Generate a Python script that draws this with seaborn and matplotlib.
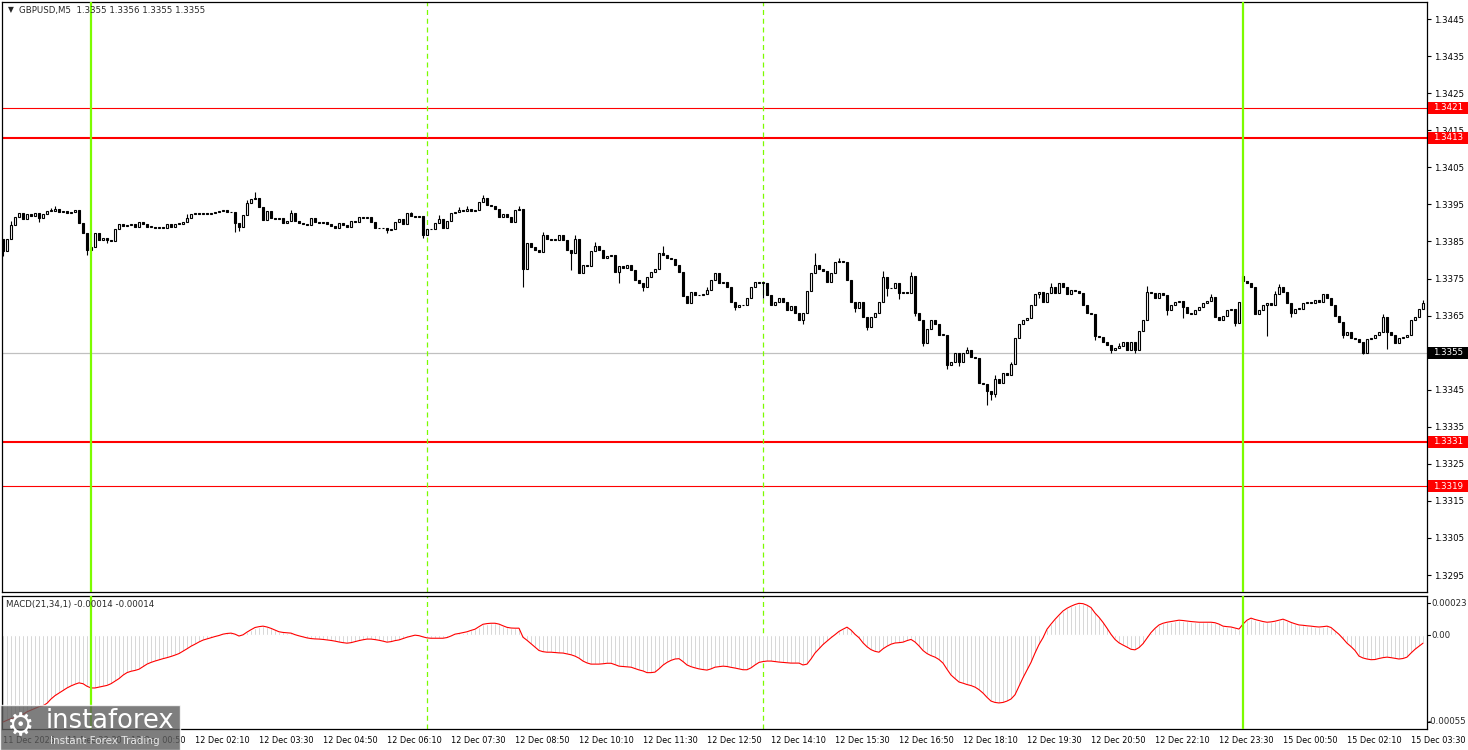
import matplotlib
matplotlib.use("Agg")
import matplotlib.pyplot as plt
import matplotlib.transforms as mtransforms
from matplotlib.patches import Rectangle
import numpy as np
import seaborn as sns

# prices are kept in pips above 1.3300
BASE = 1.3300
PIP = 0.0001

close_pips = [
    82.4, 85.7, 89.4, 91.6, 92.7, 91.0, 92.4, 91.9, 92.7, 91.3,
    92.4, 93.2, 93.2, 93.7, 92.9, 93.2, 92.7, 92.9, 93.5, 90.0,
    87.3, 82.7, 83.5, 87.3, 85.4, 85.9, 85.4, 85.1, 88.3, 89.7,
    89.2, 89.4, 89.7, 88.9, 90.2, 89.7, 88.9, 88.9, 88.6, 88.9,
    88.6, 89.7, 88.9, 89.7, 89.7, 90.2, 91.3, 92.4, 92.7, 92.4,
    92.7, 92.4, 92.7, 92.9, 93.2, 93.5, 92.9, 92.9, 90.0, 88.9,
    92.1, 95.4, 96.4, 96.7, 94.3, 90.8, 93.2, 91.3, 91.0, 91.3,
    90.0, 90.5, 92.7, 90.5, 90.0, 89.7, 89.4, 91.3, 90.2, 90.0,
    90.2, 89.7, 89.2, 88.6, 90.0, 89.4, 88.9, 90.5, 90.2, 91.6,
    91.3, 91.6, 90.2, 88.6, 88.6, 88.6, 88.1, 88.3, 90.2, 91.0,
    89.7, 92.7, 91.9, 91.6, 91.9, 86.7, 88.3, 88.3, 90.0, 91.0,
    88.6, 90.5, 92.7, 92.9, 93.5, 93.2, 93.7, 93.2, 93.5, 95.6,
    96.7, 94.8, 94.6, 93.7, 91.6, 92.4, 91.6, 90.2, 93.5, 93.7,
    77.6, 84.6, 83.5, 82.7, 82.1, 86.7, 85.7, 85.4, 85.4, 86.7,
    85.4, 82.7, 81.9, 85.7, 76.5, 78.6, 78.4, 82.4, 83.8, 82.7,
    80.5, 81.1, 81.3, 76.8, 78.4, 77.8, 78.6, 77.3, 74.6, 73.8,
    72.7, 75.4, 76.8, 77.6, 81.9, 81.3, 80.5, 80.3, 78.6, 76.8,
    70.3, 68.4, 71.4, 70.5, 70.5, 70.8, 71.9, 74.6, 76.5, 73.8,
    74.1, 72.7, 68.7, 67.3, 67.8, 67.8, 69.7, 72.7, 74.1, 73.8,
    73.8, 70.5, 67.8, 68.7, 69.7, 68.7, 66.5, 67.6, 65.7, 63.8,
    65.7, 71.6, 76.5, 78.6, 77.6, 77.0, 74.1, 76.5, 79.4, 79.7,
    79.4, 74.6, 68.7, 67.0, 68.7, 64.6, 61.9, 64.6, 65.7, 68.7,
    75.4, 72.4, 72.4, 73.8, 71.1, 71.4, 71.1, 75.7, 65.7, 63.8,
    57.6, 61.4, 63.8, 62.7, 59.8, 59.8, 51.7, 52.5, 54.9, 52.5,
    54.9, 55.7, 53.8, 53.6, 46.8, 46.5, 44.6, 43.8, 47.9, 46.8,
    49.5, 49.0, 51.9, 58.9, 62.7, 63.8, 64.3, 67.8, 70.8, 71.4,
    68.7, 71.1, 72.7, 71.1, 73.8, 72.7, 70.8, 71.9, 71.6, 71.1,
    67.8, 65.7, 65.3, 59.5, 59.2, 57.9, 57.1, 55.7, 56.2, 56.8,
    57.9, 55.7, 57.9, 55.7, 60.8, 63.8, 71.4, 71.0, 69.7, 71.1,
    70.5, 66.5, 67.8, 68.7, 69.0, 67.3, 65.7, 65.4, 66.5, 67.3,
    68.4, 69.0, 70.0, 64.6, 63.8, 64.9, 66.5, 66.8, 63.0, 68.7,
    74.3, 73.8, 72.7, 65.4, 66.5, 67.8, 68.4, 67.8, 70.8, 72.7,
    71.4, 68.4, 65.7, 66.8, 66.8, 68.4, 68.7, 68.4, 69.2, 68.7,
    70.8, 69.7, 67.8, 64.9, 63.3, 59.8, 60.6, 58.9, 58.7, 57.9,
    54.9, 58.7, 59.0, 59.8, 60.6, 64.6, 60.6, 59.8, 57.6, 58.9,
    59.2, 59.8, 63.8, 64.6, 66.8, 68.4,
]
first_open_pips = 85.7
gap_open_bars = [310]
gap_open_pips = [75.7]

high_wick_bars = [2, 12, 13, 46, 61, 63, 72, 102, 109, 114, 116, 120, 129,
                  135, 143, 148, 165, 176, 203, 209, 220, 227, 241, 248, 252,
                  262, 266, 279, 286, 302, 318, 319, 345, 355]
high_wick_pips = [90.5, 94.0, 94.5, 92.5, 96.2, 98.3, 93.5, 93.0, 92.0, 94.3,
                  94.5, 97.5, 94.6, 87.5, 86.7, 84.9, 83.8, 72.7, 81.9, 80.5,
                  77.0, 76.8, 56.5, 49.0, 52.6, 73.8, 72.0, 57.6, 73.0, 70.8,
                  71.6, 73.5, 65.4, 69.2]
low_wick_bars = [0, 9, 21, 26, 58, 59, 89, 96, 105, 130, 142, 154, 160, 183,
                 190, 200, 213, 216, 219, 221, 224, 228, 230, 236, 239, 246,
                 247, 248, 252, 259, 273, 277, 283, 291, 295, 308, 316, 322,
                 335, 340, 346]
low_wick_pips = [81.1, 90.2, 81.3, 84.6, 87.6, 87.8, 90.8, 87.3, 86.0, 72.7,
                 77.3, 73.8, 71.6, 66.5, 69.7, 62.7, 65.9, 61.1, 67.6, 70.3,
                 69.5, 64.9, 56.8, 50.6, 51.4, 40.9, 42.2, 43.0, 50.8, 69.7,
                 58.4, 54.9, 54.9, 65.2, 64.3, 62.2, 59.5, 64.6, 59.0, 54.6,
                 56.0]

# MACD(21,34,1), in units of 0.00001
macd_points = [
    -51, -50, -49, -48.5, -47.5, -46.5, -45, -44, -43, -42,
    -41.5, -40, -37.5, -35.5, -34, -32.5, -31, -29.8, -28.8, -28,
    -28.5, -30, -31, -31, -30.5, -30, -29.5, -28.5, -27, -25.5,
    -23.5, -22, -21.2, -20.7, -20, -18.5, -17, -16, -15.2, -14.5,
    -13.8, -13.2, -12.5, -11.7, -10.8, -9.4, -8, -6.5, -5.3, -4,
    -2.9, -2.2, -1.5, -0.8, -0.2, 0.6, 1.0, 1.2, 0.6, -0.5,
    0.2, 1.8, 3.2, 4.5, 5.0, 5.3, 4.8, 4.0, 3.0, 2.0,
    1.6, 1.4, 1.2, 0.3, -0.4, -1.0, -1.6, -2.0, -2.2, -2.3,
    -2.5, -2.8, -3.1, -3.5, -4.0, -4.4, -4.7, -4.4, -3.8, -3.2,
    -2.7, -2.3, -2.3, -2.6, -3.0, -3.5, -4.1, -3.8, -3.2, -2.8,
    -2.0, -1.2, -0.6, 0, -0.3, -1.0, -1.6, -1.8, -1.8, -1.8,
    -1.8, -1.4, -0.5, 0.6, 1.0, 1.5, 2.0, 2.8, 3.5, 5.0,
    6.4, 6.8, 7.0, 7.0, 6.5, 5.5, 4.6, 4.2, 4.1, 4.1,
    -1.2, -3.0, -5.0, -7.0, -9.0, -9.7, -10, -10, -10.2, -10.4,
    -10.5, -11, -11.5, -12.3, -13.5, -15.2, -16.3, -17, -17, -17,
    -16.8, -16.5, -16.5, -17.3, -18.2, -18.4, -18.6, -18.8, -19.6, -20.4,
    -21, -22, -22, -21.7, -19.8, -17.6, -16, -14.8, -14, -13.8,
    -15.5, -17.5, -18.5, -19.2, -19.8, -20.2, -20.5, -19.8, -18.8, -18.5,
    -18.2, -18.4, -18.9, -19.3, -19.8, -20.3, -20.3, -19.2, -17.5, -16.0,
    -15.5, -15.2, -15.2, -15.5, -15.8, -16.0, -16.2, -16.4, -16.4, -16.4,
    -17.5, -17.0, -14, -10.5, -8, -5.5, -3.5, -1.5, 0.3, 2.2,
    3.5, 4.7, 3.0, 0.5, -1.5, -4.5, -6.8, -8.5, -9.5, -10,
    -8, -6.5, -5.3, -4.6, -4.4, -4.1, -3.2, -2.5, -4.0, -6.3,
    -9, -10.8, -12, -12.9, -14.3, -16.4, -20, -23.4, -25.5, -27.5,
    -28.2, -29, -29.6, -30.5, -32, -34, -36.5, -38.7, -39.5, -39.8,
    -39.5, -38.7, -37.5, -35, -30, -25, -20.5, -16, -10.5, -5.5,
    -1.5, 3.5, 6.5, 9.3, 11.8, 14.2, 15.8, 17, 18, 18.7,
    18.5, 17.6, 16.2, 13, 10.5, 7.5, 4.1, 0.5, -2.5, -4.5,
    -5.8, -7, -8.3, -8.6, -7.3, -5, -1.8, 1.5, 4.0, 6.0,
    7, 7.6, 8.0, 8.4, 8.8, 8.6, 8.3, 8.0, 7.8, 7.6,
    7.6, 7.6, 7.6, 7.3, 6.5, 5.3, 5.0, 4.8, 4.2, 3.6,
    6.5, 8.8, 10, 9.2, 8.6, 8.0, 7.6, 7.8, 8.2, 8.8,
    9.4, 8.5, 7.5, 6.7, 6.0, 5.8, 5.5, 5.3, 5.0, 4.8,
    5.0, 5.3, 4.5, 2.5, 0.5, -2.0, -4.7, -6.7, -9, -12.3,
    -13.4, -14, -14.4, -14.3, -13.7, -13.2, -12.9, -13.2, -13.6, -14,
    -13.7, -12.9, -10.5, -8.3, -6.5, -4.7,
]

time_labels = [
    "11 Dec 2025", "11 Dec 23:30", "12 Dec 00:50", "12 Dec 02:10",
    "12 Dec 03:30", "12 Dec 04:50", "12 Dec 06:10", "12 Dec 07:30",
    "12 Dec 08:50", "12 Dec 10:10", "12 Dec 11:30", "12 Dec 12:50",
    "12 Dec 14:10", "12 Dec 15:30", "12 Dec 16:50", "12 Dec 18:10",
    "12 Dec 19:30", "12 Dec 20:50", "12 Dec 22:10", "12 Dec 23:30",
    "15 Dec 00:50", "15 Dec 02:10", "15 Dec 03:30",
]
label_step = 16  # one label every 80 minutes of M5 bars

price_ticks = [1.3295, 1.3305, 1.3315, 1.3325, 1.3335, 1.3345, 1.3355,
               1.3365, 1.3375, 1.3385, 1.3395, 1.3405, 1.3415, 1.3425,
               1.3435, 1.3445]
levels = [1.3421, 1.3413, 1.3331, 1.3319]
level_widths = [0.8, 1.5, 1.5, 0.8]
current_price = 1.3355
day_break_bars = [22, 310]
session_bars = [106, 190]

macd_axis_labels = ["0.00023", "0.00", "-0.00055"]

header = "GBPUSD,M5  1.3355 1.3356 1.3355 1.3355"
macd_title = "MACD(21,34,1) -0.00014 -0.00014"

# ---------------------------------------------------------------
sns.set_style("white")
plt.rcParams["font.family"] = ["DejaVu Sans"]
FS = 6.2
FS_TIME = 5.9

closes = BASE + np.array(close_pips) * PIP
opens = np.concatenate([[BASE + first_open_pips * PIP], closes[:-1]])
for b, p in zip(gap_open_bars, gap_open_pips):
    opens[b] = BASE + p * PIP
highs = np.maximum(opens, closes)
lows = np.minimum(opens, closes)
for b, p in zip(high_wick_bars, high_wick_pips):
    highs[b] = max(highs[b], BASE + p * PIP)
for b, p in zip(low_wick_bars, low_wick_pips):
    lows[b] = min(lows[b], BASE + p * PIP)

n = len(closes)
xs = np.arange(n)
macd = np.array(macd_points) * 1e-5

W, H = 1468, 750
fig = plt.figure(figsize=(W / 100, H / 100), dpi=100)
fig.patch.set_facecolor("white")


def px_box(left, top, right, bottom):
    return [left / W, 1 - bottom / H, (right - left) / W, (bottom - top) / H]


MAIN = (2, 2, 1427, 592)
SUB = (2, 596, 1427, 729)
ax = fig.add_axes(px_box(*MAIN))
ax2 = fig.add_axes(px_box(*SUB), sharex=ax)

x_lo = -0.25
x_hi = n
y_lo, y_hi = 1.329043, 1.344959
ax.set_xlim(x_lo, x_hi)
ax.set_ylim(y_lo, y_hi)
px_per_price = (MAIN[3] - MAIN[1]) / (y_hi - y_lo)
axw = MAIN[2] - MAIN[0]

# reference lines
for lvl, lw in zip(levels, level_widths):
    ax.axhline(lvl, color="#ff0000", lw=lw, zorder=1)
ax.axhline(current_price, color="#c0c0c0", lw=0.9, zorder=1)
for b in session_bars:
    for a in (ax, ax2):
        a.axvline(b, color="#7cfc00", lw=0.9, dashes=(4, 3), zorder=1)
for b in day_break_bars:
    for a in (ax, ax2):
        a.axvline(b, color="#7cfc00", lw=1.6, zorder=4)

# candles
up = closes >= opens
ax.vlines(xs, lows, highs, color="black", lw=0.8, zorder=2)
body_h = np.maximum(np.abs(closes - opens), 0.000015)
body_b = np.minimum(opens, closes)
ax.bar(xs[up], body_h[up], bottom=body_b[up], width=0.72,
       color="white", edgecolor="black", linewidth=0.8, zorder=3)
ax.bar(xs[~up], body_h[~up], bottom=body_b[~up], width=0.72,
       color="black", edgecolor="black", linewidth=0.8, zorder=3)

# price axis (current price label is drawn as a box instead)
ax.yaxis.tick_right()
ax.set_yticks(price_ticks)
ax.set_yticklabels(["" if abs(t - current_price) < 1e-9 else f"{t:.4f}"
                    for t in price_ticks])
ax.tick_params(axis="y", direction="out", length=3, width=0.8,
               labelsize=FS, pad=2, colors="black")
ax.tick_params(axis="x", bottom=False, labelbottom=False)

ytrans = mtransforms.blended_transform_factory(ax.transAxes, ax.transData)
box_half = 6 / px_per_price
box_x0 = 1 + 1 / axw
box_w = 40 / axw
text_x = 1 + 6 / axw
tags = [(lvl, "#ff0000") for lvl in levels] + [(current_price, "black")]
for lvl, col in tags:
    ax.add_patch(Rectangle((box_x0, lvl - box_half), box_w, 2 * box_half,
                           transform=ytrans, facecolor=col, edgecolor="none",
                           clip_on=False, zorder=6))
    ax.text(text_x, lvl, f"{lvl:.4f}", transform=ytrans, ha="left",
            va="center", fontsize=FS, color="white", zorder=7, clip_on=False)

# MACD panel
ax2.set_ylim(-55.1e-5, 23e-5)
ax2.bar(xs, macd, width=0.5, color="#c0c0c0", zorder=2)
sns.lineplot(x=xs, y=macd, color="#ff0000", lw=0.8, ax=ax2, zorder=3)
ax2.set_ylabel("")
ax2.set_yticks([])
tick_pos = [i * label_step for i in range(len(time_labels))]
ax2.set_xticks(tick_pos)
ax2.set_xticklabels(time_labels, fontsize=FS_TIME)
ax2.tick_params(axis="x", direction="out", length=3, width=0.8, pad=2,
                colors="black")
for lab in ax2.get_xticklabels():
    lab.set_horizontalalignment("left")
ax2.set_xlim(x_lo, x_hi)

sub_h = SUB[3] - SUB[1]
macd_label_y = [603, 635, 722]
macd_label_x = [1431, 1431, 1428]
for txt, py, pxx in zip(macd_axis_labels, macd_label_y, macd_label_x):
    yy = (SUB[3] - py) / sub_h
    ax2.text(1 + (pxx - SUB[2]) / axw, yy, txt, transform=ax2.transAxes,
             ha="left", va="center", fontsize=FS, clip_on=False)
    ax2.plot([1.0, 1 + 3 / axw], [yy, yy], transform=ax2.transAxes,
             color="black", lw=0.8, clip_on=False)

for a in (ax, ax2):
    for s in a.spines.values():
        s.set_color("black")
        s.set_linewidth(0.9)
        s.set_visible(True)

# captions
fig.text(8 / W, 1 - 10 / H, "\u25bc", fontsize=5.5, va="center", ha="left")
fig.text(19 / W, 1 - 10 / H, header, fontsize=FS, va="center", ha="left")
fig.text(6 / W, 1 - 605 / H, macd_title, fontsize=FS, va="center", ha="left")

# watermark
fig.patches.append(Rectangle((0, 0), 180 / W, 45 / H, transform=fig.transFigure,
                             facecolor="#5e5e5e", alpha=0.8, zorder=10))
fig.text(6 / W, 1 - 727 / H, "\u2699", fontsize=22, color="white",
         va="center", ha="left", zorder=11)
fig.text(46 / W, 1 - 721 / H, "instaforex", fontsize=18.5, color="white",
         va="center", ha="left", zorder=11)
fig.text(50 / W, 1 - 741 / H, "Instant Forex Trading", fontsize=7.5,
         color="#e8e8e8", va="center", ha="left", zorder=11)

fig.savefig("out.png", dpi=100, facecolor="white")
